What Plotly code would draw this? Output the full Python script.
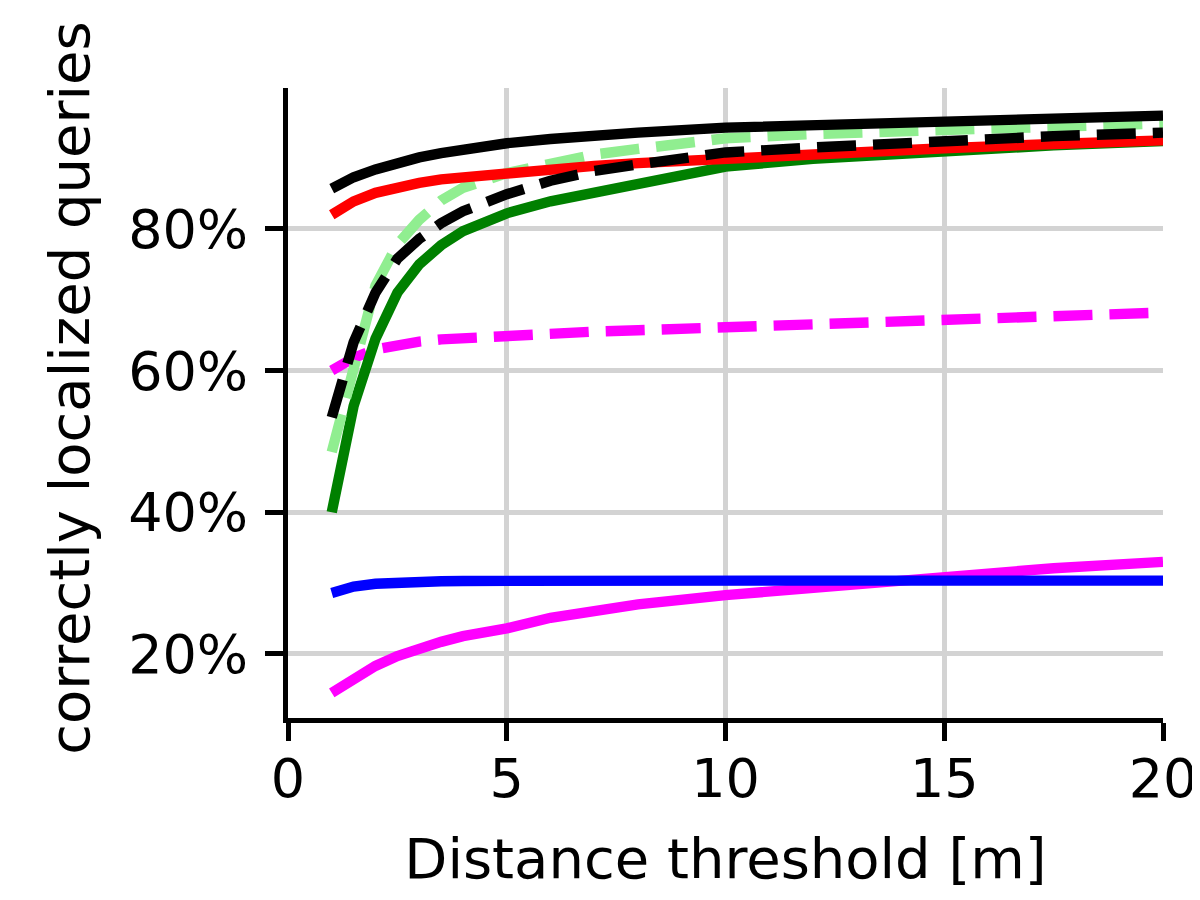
import plotly.graph_objects as go

# distance thresholds [m]
x = [1, 1.5, 2, 2.5, 3, 3.5, 4, 5, 6, 7, 8, 10, 12, 15, 17.5, 20]

# correctly localized queries [%]
black_solid = [85.7, 87.3, 88.4, 89.3, 90.1, 90.7, 91.2, 92.1, 92.7, 93.2, 93.6, 94.3, 94.7, 95.2, 95.6, 96.0]
black_dash = [53.4, 64.0, 71.0, 75.8, 78.6, 80.8, 82.5, 84.9, 86.8, 88.2, 89.1, 90.8, 91.5, 92.5, 93.1, 93.6]
lightgreen_dash = [48.5, 61.0, 72.0, 77.8, 81.3, 84.0, 85.8, 87.9, 89.3, 90.5, 91.3, 92.8, 93.4, 94.1, 94.5, 94.9]
red_solid = [82.0, 83.9, 85.1, 85.9, 86.5, 87.0, 87.3, 87.8, 88.4, 88.9, 89.3, 90.0, 90.6, 91.4, 92.0, 92.5]
green_solid = [40.0, 55.0, 64.5, 71.0, 75.0, 77.7, 79.7, 82.2, 83.9, 85.2, 86.3, 88.8, 89.9, 91.1, 91.8, 92.4]
magenta_dash = [60.0, 61.8, 63.0, 63.7, 64.1, 64.4, 64.6, 65.0, 65.3, 65.5, 65.7, 66.1, 66.5, 67.1, 67.7, 68.2]
blue_solid = [28.6, 29.5, 29.9, 30.1, 30.2, 30.25, 30.3, 30.35, 30.35, 30.35, 30.35, 30.35, 30.35, 30.35, 30.35, 30.35]
magenta_solid = [14.5, 16.6, 18.3, 19.7, 20.8, 21.7, 22.5, 23.6, 25.1, 26.2, 27.0, 28.3, 29.4, 31.0, 32.1, 33.0]

y_ticks = [20, 40, 60, 80]
y_labels = ["20%", "40%", "60%", "80%"]
x_ticks = [0, 5, 10, 15, 20]

LW = 10.4
DASH = "39px,17px"
FONT = "DejaVu Sans"

series = [
    ("magenta solid", magenta_solid, "#ff00ff", "solid"),
    ("blue solid", blue_solid, "#0000ff", "solid"),
    ("magenta dashed", magenta_dash, "#ff00ff", DASH),
    ("green solid", green_solid, "#008000", "solid"),
    ("lightgreen dashed", lightgreen_dash, "#90ee90", DASH),
    ("red solid", red_solid, "#ff0000", "solid"),
    ("black dashed", black_dash, "#000000", DASH),
    ("black solid", black_solid, "#000000", "solid"),
]

fig = go.Figure()
for name, ys, col, dash in series:
    fig.add_trace(go.Scatter(x=x, y=ys, mode="lines", name=name,
                             line=dict(color=col, width=LW, dash=dash)))

# page body adds 8px, so margins are set 8px smaller on left/top
fig.update_layout(
    width=1200, height=900,
    margin=dict(l=280, r=45, t=80, b=190, autoexpand=False),
    paper_bgcolor="white", plot_bgcolor="white",
    showlegend=False,
    font=dict(family=FONT, size=54, color="black"),
)
fig.update_xaxes(
    range=[0, 20], tickvals=x_ticks, automargin=False,
    showline=True, linecolor="black", linewidth=5,
    ticks="outside", ticklen=18, tickwidth=5, tickcolor="black",
    showgrid=True, gridcolor="#d3d3d3", gridwidth=5, zeroline=False,
    ticklabelstandoff=-9,
    title=dict(text="Distance threshold [m]", font=dict(size=56), standoff=32),
)
fig.update_yaxes(
    range=[10.95, 99.9], tickvals=y_ticks, ticktext=y_labels, automargin=False,
    showline=True, linecolor="black", linewidth=5,
    ticks="outside", ticklen=18, tickwidth=5, tickcolor="black",
    showgrid=True, gridcolor="#d3d3d3", gridwidth=5, zeroline=False,
    ticklabelstandoff=6,
)
fig.add_annotation(
    text="correctly localized queries", textangle=-90,
    xref="paper", yref="paper", x=-0.2505, y=0.5238,
    xanchor="center", yanchor="middle", showarrow=False,
    font=dict(size=56),
)

fig.write_html("out.html")
